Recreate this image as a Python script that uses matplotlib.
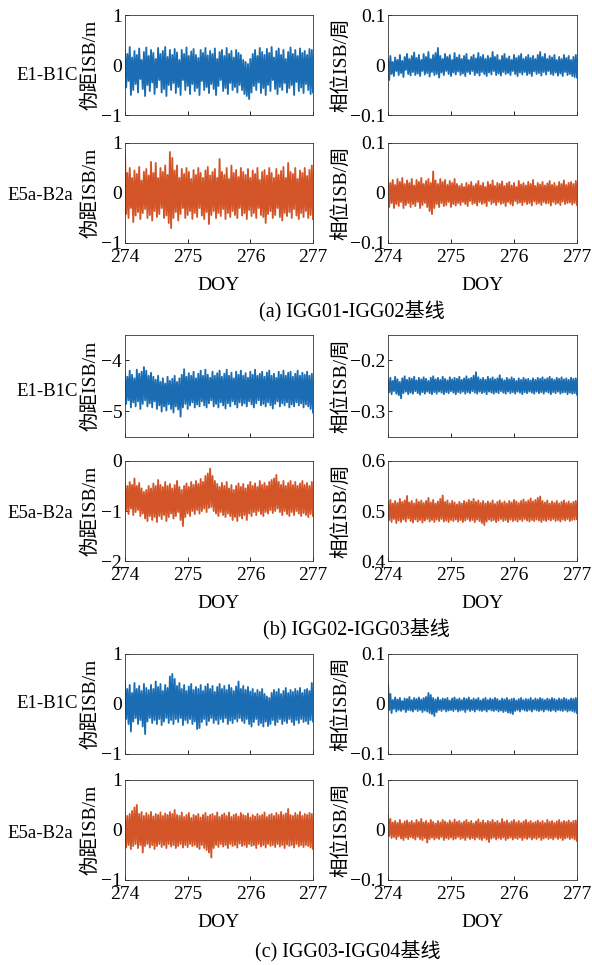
import numpy as np
import matplotlib
matplotlib.use("Agg")
import matplotlib.pyplot as plt
from matplotlib.ticker import FuncFormatter

# ── data: upper / lower swings of each ISB series ───────────────────────────
DOY_START, DOY_END = 274, 277
DOY_TICKS = [274, 275, 276, 277]

# (a) IGG01-IGG02
a_e1_code_hi = [0.3, 0.22, 0.36, 0.15, 0.28, 0.2, 0.33, 0.1, 0.26, 0.35,
                0.18, 0.3, 0.24, 0.12, 0.34, 0.22, 0.28, 0.36, 0.16, 0.3,
                0.2, 0.32, 0.25, 0.1, 0.3, 0.22, 0.35, 0.18, 0.27, 0.32,
                0.2, 0.14, 0.3, 0.24, 0.34, 0.19, 0.28, 0.22, 0.33, 0.12,
                0.26, 0.3, 0.18, 0.34, 0.22, 0.28, 0.15, 0.3, 0.24, 0.2,
                0.1, 0.06, 0.02, 0.12, 0.22, 0.3, 0.18, 0.34, 0.26, 0.2,
                0.32, 0.24, 0.36, 0.15, 0.28, 0.33, 0.2, 0.3, 0.12, 0.26,
                0.35, 0.22, 0.3, 0.18, 0.33, 0.24, 0.28, 0.2, 0.32, 0.3]
a_e1_code_lo = [-0.45, -0.32, -0.6, -0.5, -0.38, -0.55, -0.28, -0.48, -0.62, -0.4,
                -0.52, -0.35, -0.58, -0.45, -0.3, -0.55, -0.48, -0.62, -0.4, -0.5,
                -0.36, -0.56, -0.44, -0.6, -0.3, -0.5, -0.42, -0.58, -0.38, -0.52,
                -0.46, -0.6, -0.32, -0.5, -0.44, -0.56, -0.38, -0.48, -0.6, -0.42,
                -0.3, -0.52, -0.46, -0.58, -0.36, -0.5, -0.44, -0.55, -0.4, -0.5,
                -0.58, -0.62, -0.68, -0.55, -0.42, -0.5, -0.35, -0.56, -0.46, -0.6,
                -0.4, -0.52, -0.3, -0.48, -0.58, -0.44, -0.5, -0.36, -0.55, -0.46,
                -0.4, -0.6, -0.34, -0.52, -0.45, -0.56, -0.38, -0.5, -0.58, -0.55]
a_e5_code_hi = [0.85, 0.4, 0.5, 0.3, 0.45, 0.38, 0.52, 0.25, 0.42, 0.48,
                0.35, 0.62, 0.4, 0.6, 0.3, 0.5, 0.42, 0.55, 0.36, 0.82,
                0.7, 0.45, 0.55, 0.3, 0.48, 0.38, 0.5, 0.42, 0.28, 0.46,
                0.36, 0.5, 0.4, 0.3, 0.45, 0.52, 0.35, 0.42, 0.48, 0.3,
                0.68, 0.42, 0.36, 0.5, 0.28, 0.55, 0.4, 0.46, 0.32, 0.5,
                0.42, 0.36, 0.48, 0.3, 0.45, 0.38, 0.5, 0.26, 0.42, 0.46,
                0.35, 0.5, 0.4, 0.3, 0.48, 0.36, 0.44, 0.52, 0.3, 0.6,
                0.42, 0.38, 0.5, 0.28, 0.45, 0.4, 0.5, 0.34, 0.46, 0.55]
a_e5_code_lo = [-0.42, -0.5, -0.3, -0.58, -0.45, -0.38, -0.52, -0.4, -0.32, -0.5,
                -0.44, -0.55, -0.36, -0.48, -0.42, -0.3, -0.5, -0.45, -0.6, -0.7,
                -0.5, -0.38, -0.55, -0.42, -0.3, -0.5, -0.44, -0.36, -0.52, -0.4,
                -0.48, -0.3, -0.45, -0.52, -0.38, -0.62, -0.44, -0.36, -0.5, -0.4,
                -0.46, -0.32, -0.52, -0.4, -0.48, -0.36, -0.44, -0.5, -0.3, -0.45,
                -0.4, -0.52, -0.34, -0.46, -0.4, -0.5, -0.3, -0.44, -0.48, -0.6,
                -0.42, -0.36, -0.5, -0.44, -0.3, -0.48, -0.55, -0.4, -0.46, -0.38,
                -0.5, -0.32, -0.45, -0.52, -0.4, -0.48, -0.36, -0.5, -0.44, -0.52]
a_e1_phase_hi = [0.012, 0.018, 0.006, 0.015, 0.01, 0.02, 0.008, 0.016, 0.022, 0.012,
                 0.018, 0.025, 0.014, 0.02, 0.01, 0.022, 0.016, 0.026, 0.012, 0.02,
                 0.024, 0.034, 0.018, 0.012, 0.022, 0.016, 0.02, 0.01, 0.024, 0.015,
                 0.02, 0.012, 0.018, 0.022, 0.01, 0.016, 0.02, 0.013, 0.024, 0.016,
                 0.02, 0.012, 0.018, 0.014, 0.026, 0.016, 0.02, 0.01, 0.018, 0.022,
                 0.013, 0.017, 0.01, 0.02, 0.014, 0.018, 0.022, 0.012, 0.016, 0.02,
                 0.014, 0.018, 0.012, 0.02, 0.026, 0.016, 0.022, 0.012, 0.018, 0.015,
                 0.02, 0.01, 0.016, 0.012, 0.02, 0.014, 0.018, 0.01, 0.016, 0.02]
a_e1_phase_lo = [-0.03, -0.018, -0.022, -0.012, -0.02, -0.016, -0.024, -0.01, -0.018, -0.021,
                 -0.014, -0.02, -0.017, -0.022, -0.012, -0.019, -0.016, -0.023, -0.014, -0.02,
                 -0.018, -0.025, -0.015, -0.02, -0.012, -0.018, -0.022, -0.015, -0.019, -0.013,
                 -0.02, -0.017, -0.022, -0.014, -0.018, -0.012, -0.02, -0.016, -0.021, -0.014,
                 -0.018, -0.022, -0.015, -0.019, -0.012, -0.02, -0.017, -0.021, -0.014, -0.018,
                 -0.016, -0.02, -0.012, -0.018, -0.022, -0.015, -0.019, -0.014, -0.02, -0.017,
                 -0.022, -0.013, -0.018, -0.016, -0.021, -0.014, -0.019, -0.012, -0.018, -0.02,
                 -0.015, -0.021, -0.017, -0.022, -0.014, -0.02, -0.018, -0.022, -0.024, -0.025]
a_e5_phase_hi = [0.03, 0.02, 0.026, 0.016, 0.028, 0.022, 0.03, 0.018, 0.025, 0.02,
                 0.028, 0.015, 0.026, 0.022, 0.03, 0.018, 0.024, 0.028, 0.02, 0.043,
                 0.025, 0.018, 0.028, 0.022, 0.026, 0.016, 0.024, 0.02, 0.028, 0.018,
                 0.014, 0.018, 0.012, 0.02, 0.016, 0.022, 0.014, 0.018, 0.024, 0.015,
                 0.02, 0.012, 0.022, 0.017, 0.025, 0.014, 0.02, 0.018, 0.023, 0.014,
                 0.019, 0.022, 0.015, 0.02, 0.012, 0.024, 0.017, 0.02, 0.015, 0.022,
                 0.018, 0.026, 0.014, 0.02, 0.017, 0.022, 0.015, 0.019, 0.024, 0.016,
                 0.02, 0.014, 0.022, 0.018, 0.025, 0.016, 0.02, 0.022, 0.018, 0.024]
a_e5_phase_lo = [-0.028, -0.02, -0.03, -0.022, -0.026, -0.018, -0.03, -0.024, -0.02, -0.028,
                 -0.022, -0.026, -0.018, -0.03, -0.024, -0.02, -0.028, -0.036, -0.042, -0.03,
                 -0.022, -0.028, -0.02, -0.026, -0.024, -0.018, -0.028, -0.022, -0.025, -0.02,
                 -0.024, -0.018, -0.022, -0.026, -0.016, -0.022, -0.02, -0.025, -0.018, -0.022,
                 -0.02, -0.026, -0.016, -0.022, -0.019, -0.024, -0.018, -0.022, -0.02, -0.026,
                 -0.018, -0.022, -0.025, -0.016, -0.021, -0.019, -0.024, -0.018, -0.022, -0.02,
                 -0.025, -0.017, -0.022, -0.02, -0.024, -0.018, -0.021, -0.02, -0.025, -0.018,
                 -0.022, -0.02, -0.024, -0.017, -0.022, -0.02, -0.019, -0.023, -0.02, -0.024]

# (b) IGG02-IGG03
b_e1_code_hi = [-4.25, -4.32, -4.2, -4.28, -4.35, -4.18, -4.26, -4.22, -4.13, -4.2,
                -4.3, -4.24, -4.32, -4.38, -4.3, -4.42, -4.35, -4.45, -4.32, -4.4,
                -4.36, -4.3, -4.42, -4.35, -4.28, -4.17, -4.32, -4.25, -4.3, -4.22,
                -4.35, -4.26, -4.2, -4.3, -4.18, -4.28, -4.34, -4.22, -4.3, -4.25,
                -4.2, -4.32, -4.26, -4.18, -4.3, -4.24, -4.35, -4.22, -4.28, -4.2,
                -4.3, -4.25, -4.34, -4.22, -4.28, -4.18, -4.3, -4.26, -4.22, -4.32,
                -4.24, -4.2, -4.3, -4.26, -4.34, -4.22, -4.28, -4.2, -4.3, -4.24,
                -4.22, -4.32, -4.26, -4.2, -4.3, -4.24, -4.28, -4.22, -4.3, -4.26]
b_e1_code_lo = [-4.85, -4.78, -4.92, -4.82, -4.9, -4.8, -4.95, -4.85, -4.78, -4.9,
                -4.84, -4.92, -4.8, -4.95, -4.88, -5.0, -4.9, -4.98, -4.86, -4.95,
                -5.02, -4.9, -4.96, -5.1, -4.92, -4.85, -4.95, -4.88, -4.82, -4.92,
                -4.86, -4.9, -4.8, -4.88, -4.92, -4.84, -4.78, -4.9, -4.85, -4.92,
                -4.82, -4.88, -4.94, -4.84, -4.9, -4.8, -4.86, -4.92, -4.82, -4.88,
                -4.84, -4.9, -4.8, -4.86, -4.92, -4.84, -4.78, -4.88, -4.85, -4.9,
                -4.82, -4.88, -4.94, -4.85, -4.8, -4.9, -4.84, -4.88, -4.82, -4.92,
                -4.86, -4.9, -4.82, -4.88, -4.84, -4.92, -4.86, -4.9, -4.95, -5.02]
b_e5_code_hi = [-0.45, -0.5, -0.42, -0.48, -0.35, -0.5, -0.44, -0.55, -0.62, -0.58,
                -0.5, -0.55, -0.45, -0.5, -0.38, -0.48, -0.52, -0.42, -0.5, -0.46,
                -0.55, -0.48, -0.4, -0.52, -0.58, -0.5, -0.45, -0.52, -0.42, -0.48,
                -0.4, -0.46, -0.36, -0.42, -0.3, -0.25, -0.15, -0.3, -0.4, -0.46,
                -0.52, -0.44, -0.5, -0.42, -0.55, -0.48, -0.58, -0.5, -0.45, -0.52,
                -0.46, -0.55, -0.48, -0.42, -0.5, -0.45, -0.52, -0.4, -0.48, -0.44,
                -0.5, -0.42, -0.38, -0.35, -0.28, -0.42, -0.48, -0.4, -0.5, -0.44,
                -0.4, -0.48, -0.42, -0.5, -0.45, -0.4, -0.48, -0.44, -0.5, -0.42]
b_e5_code_lo = [-1.0, -1.06, -0.95, -1.08, -1.02, -0.98, -1.1, -1.05, -1.15, -1.2,
                -1.1, -1.18, -1.12, -1.22, -1.1, -1.16, -1.08, -1.2, -1.12, -1.05,
                -1.15, -1.1, -1.02, -1.18, -1.3, -1.12, -1.05, -1.1, -1.0, -1.06,
                -0.98, -1.05, -1.0, -0.95, -1.02, -0.94, -0.92, -1.0, -1.05, -1.1,
                -1.02, -1.08, -1.12, -1.05, -1.1, -1.18, -1.12, -1.2, -1.1, -1.15,
                -1.08, -1.18, -1.05, -1.1, -1.02, -1.08, -1.0, -1.06, -1.1, -1.02,
                -1.05, -0.98, -1.04, -1.0, -0.95, -1.02, -1.08, -1.0, -1.06, -1.1,
                -1.02, -1.08, -1.0, -1.05, -1.1, -1.04, -1.08, -1.12, -1.06, -1.1]
b_e1_phase_hi = [-0.238, -0.234, -0.24, -0.232, -0.237, -0.242, -0.235, -0.231, -0.238, -0.234,
                 -0.236, -0.232, -0.239, -0.234, -0.237, -0.233, -0.236, -0.24, -0.234, -0.231,
                 -0.237, -0.234, -0.238, -0.232, -0.236, -0.239, -0.233, -0.237, -0.234, -0.236,
                 -0.232, -0.238, -0.235, -0.231, -0.236, -0.234, -0.23, -0.223, -0.233, -0.237,
                 -0.234, -0.238, -0.232, -0.236, -0.233, -0.237, -0.235, -0.229, -0.236, -0.239,
                 -0.234, -0.237, -0.233, -0.236, -0.24, -0.235, -0.238, -0.234, -0.237, -0.236,
                 -0.239, -0.235, -0.238, -0.234, -0.236, -0.233, -0.237, -0.235, -0.232, -0.236,
                 -0.238, -0.234, -0.236, -0.233, -0.237, -0.235, -0.238, -0.234, -0.236, -0.235]
b_e1_phase_lo = [-0.262, -0.266, -0.26, -0.265, -0.268, -0.274, -0.264, -0.261, -0.266, -0.263,
                 -0.265, -0.26, -0.264, -0.267, -0.262, -0.265, -0.261, -0.264, -0.266, -0.262,
                 -0.265, -0.261, -0.263, -0.266, -0.262, -0.264, -0.26, -0.263, -0.266, -0.262,
                 -0.264, -0.261, -0.265, -0.262, -0.264, -0.26, -0.263, -0.265, -0.261, -0.264,
                 -0.262, -0.266, -0.261, -0.263, -0.265, -0.262, -0.264, -0.26, -0.263, -0.265,
                 -0.261, -0.264, -0.262, -0.265, -0.261, -0.263, -0.266, -0.262, -0.264, -0.261,
                 -0.263, -0.265, -0.261, -0.264, -0.262, -0.265, -0.261, -0.263, -0.266, -0.262,
                 -0.264, -0.261, -0.265, -0.263, -0.262, -0.266, -0.263, -0.265, -0.264, -0.267]
b_e5_phase_hi = [0.518, 0.522, 0.515, 0.52, 0.516, 0.524, 0.518, 0.521, 0.53, 0.517,
                 0.52, 0.515, 0.523, 0.518, 0.521, 0.516, 0.52, 0.526, 0.517, 0.522,
                 0.515, 0.519, 0.524, 0.531, 0.518, 0.521, 0.515, 0.52, 0.517, 0.513,
                 0.518, 0.515, 0.52, 0.517, 0.522, 0.519, 0.524, 0.518, 0.521, 0.516,
                 0.52, 0.515, 0.519, 0.516, 0.521, 0.514, 0.518, 0.521, 0.516, 0.519,
                 0.515, 0.52, 0.517, 0.522, 0.519, 0.516, 0.52, 0.523, 0.518, 0.521,
                 0.525, 0.519, 0.522, 0.526, 0.529, 0.52, 0.517, 0.521, 0.515, 0.519,
                 0.516, 0.52, 0.515, 0.518, 0.521, 0.516, 0.519, 0.515, 0.518, 0.52]
b_e5_phase_lo = [0.482, 0.478, 0.484, 0.476, 0.481, 0.478, 0.483, 0.479, 0.485, 0.48,
                 0.477, 0.483, 0.479, 0.482, 0.477, 0.481, 0.484, 0.479, 0.482, 0.478,
                 0.483, 0.48, 0.484, 0.479, 0.481, 0.478, 0.482, 0.48, 0.483, 0.479,
                 0.482, 0.478, 0.481, 0.484, 0.48, 0.482, 0.478, 0.483, 0.48, 0.476,
                 0.472, 0.479, 0.483, 0.48, 0.482, 0.478, 0.481, 0.484, 0.48, 0.482,
                 0.478, 0.483, 0.48, 0.482, 0.479, 0.483, 0.48, 0.484, 0.481, 0.479,
                 0.482, 0.48, 0.483, 0.481, 0.478, 0.482, 0.48, 0.483, 0.481, 0.484,
                 0.48, 0.482, 0.479, 0.483, 0.481, 0.484, 0.48, 0.482, 0.483, 0.484]

# (c) IGG03-IGG04
c_e1_code_hi = [0.45, 0.3, 0.38, 0.22, 0.42, 0.3, 0.36, 0.26, 0.4, 0.32,
                0.28, 0.38, 0.3, 0.45, 0.34, 0.4, 0.26, 0.38, 0.32, 0.55,
                0.6, 0.5, 0.36, 0.42, 0.3, 0.38, 0.26, 0.35, 0.4, 0.28,
                0.34, 0.3, 0.38, 0.26, 0.35, 0.4, 0.3, 0.36, 0.24, 0.34,
                0.4, 0.3, 0.36, 0.28, 0.38, 0.32, 0.26, 0.35, 0.45, 0.3,
                0.36, 0.28, 0.34, 0.25, 0.3, 0.22, 0.28, 0.24, 0.3, 0.2,
                0.15, 0.12, 0.22, 0.28, 0.24, 0.3, 0.2, 0.26, 0.32, 0.22,
                0.28, 0.24, 0.3, 0.26, 0.32, 0.22, 0.28, 0.3, 0.26, 0.42]
c_e1_code_lo = [-0.3, -0.4, -0.55, -0.35, -0.28, -0.4, -0.32, -0.45, -0.6, -0.35,
                -0.28, -0.38, -0.32, -0.4, -0.3, -0.42, -0.35, -0.28, -0.38, -0.32,
                -0.4, -0.3, -0.36, -0.28, -0.42, -0.32, -0.38, -0.3, -0.4, -0.35,
                -0.5, -0.48, -0.36, -0.3, -0.42, -0.34, -0.28, -0.38, -0.32, -0.4,
                -0.3, -0.36, -0.28, -0.4, -0.33, -0.38, -0.3, -0.35, -0.28, -0.34,
                -0.38, -0.3, -0.4, -0.45, -0.36, -0.3, -0.42, -0.38, -0.45, -0.35,
                -0.44, -0.4, -0.32, -0.42, -0.36, -0.3, -0.4, -0.34, -0.38, -0.3,
                -0.36, -0.42, -0.32, -0.38, -0.3, -0.36, -0.34, -0.4, -0.32, -0.35]
c_e5_code_hi = [0.35, 0.28, 0.32, 0.38, 0.45, 0.5, 0.32, 0.36, 0.28, 0.34,
                0.3, 0.36, 0.27, 0.32, 0.3, 0.35, 0.28, 0.33, 0.3, 0.36,
                0.32, 0.4, 0.3, 0.28, 0.35, 0.26, 0.3, 0.34, 0.24, 0.3,
                0.28, 0.32, 0.25, 0.3, 0.34, 0.27, 0.3, 0.32, 0.28, 0.35,
                0.26, 0.3, 0.33, 0.28, 0.35, 0.26, 0.3, 0.32, 0.27, 0.34,
                0.3, 0.28, 0.33, 0.25, 0.3, 0.27, 0.32, 0.28, 0.3, 0.35,
                0.26, 0.3, 0.32, 0.28, 0.34, 0.3, 0.36, 0.3, 0.33, 0.42,
                0.3, 0.28, 0.34, 0.3, 0.36, 0.28, 0.32, 0.3, 0.34, 0.32]
c_e5_code_lo = [-0.35, -0.3, -0.38, -0.32, -0.28, -0.36, -0.3, -0.45, -0.32, -0.28,
                -0.35, -0.3, -0.38, -0.32, -0.28, -0.34, -0.3, -0.36, -0.28, -0.33,
                -0.3, -0.36, -0.32, -0.28, -0.35, -0.3, -0.34, -0.28, -0.32, -0.3,
                -0.34, -0.38, -0.3, -0.36, -0.4, -0.45, -0.55, -0.36, -0.3, -0.34,
                -0.28, -0.33, -0.3, -0.36, -0.28, -0.32, -0.3, -0.35, -0.27, -0.32,
                -0.3, -0.34, -0.28, -0.32, -0.3, -0.36, -0.28, -0.33, -0.3, -0.35,
                -0.28, -0.32, -0.3, -0.34, -0.28, -0.33, -0.3, -0.36, -0.29, -0.32,
                -0.3, -0.35, -0.28, -0.33, -0.3, -0.34, -0.3, -0.32, -0.35, -0.38]
c_e1_phase_hi = [0.042, 0.02, 0.008, 0.013, 0.009, 0.012, 0.006, 0.011, 0.01, 0.014,
                 0.008, 0.012, 0.01, 0.013, 0.009, 0.012, 0.014, 0.022, 0.018, 0.012,
                 0.009, 0.013, 0.008, 0.011, 0.01, 0.012, 0.007, 0.011, 0.013, 0.009,
                 0.011, 0.008, 0.012, 0.01, 0.013, 0.008, 0.011, 0.009, 0.012, 0.007,
                 0.01, 0.012, 0.008, 0.011, 0.009, 0.012, 0.01, 0.007, 0.011, 0.009,
                 0.012, 0.008, 0.01, 0.011, 0.007, 0.01, 0.012, 0.008, 0.01, 0.009,
                 0.012, 0.008, 0.011, 0.009, 0.012, 0.01, 0.008, 0.011, 0.009, 0.012,
                 0.01, 0.008, 0.011, 0.009, 0.012, 0.01, 0.008, 0.011, 0.01, 0.012]
c_e1_phase_lo = [-0.012, -0.018, -0.01, -0.015, -0.012, -0.014, -0.011, -0.016, -0.012, -0.013,
                 -0.015, -0.011, -0.014, -0.012, -0.016, -0.013, -0.015, -0.018, -0.02, -0.024,
                 -0.016, -0.012, -0.014, -0.011, -0.015, -0.013, -0.012, -0.014, -0.011, -0.015,
                 -0.013, -0.012, -0.016, -0.011, -0.014, -0.012, -0.015, -0.011, -0.013, -0.014,
                 -0.012, -0.015, -0.011, -0.013, -0.014, -0.012, -0.015, -0.013, -0.016, -0.014,
                 -0.017, -0.018, -0.02, -0.014, -0.012, -0.015, -0.011, -0.013, -0.014, -0.012,
                 -0.015, -0.011, -0.013, -0.014, -0.012, -0.015, -0.011, -0.013, -0.014, -0.012,
                 -0.015, -0.012, -0.013, -0.014, -0.012, -0.015, -0.013, -0.014, -0.016, -0.018]
c_e5_phase_hi = [0.03, 0.022, 0.015, 0.018, 0.014, 0.02, 0.013, 0.017, 0.019, 0.015,
                 0.018, 0.014, 0.02, 0.016, 0.022, 0.015, 0.018, 0.014, 0.02, 0.016,
                 0.013, 0.018, 0.015, 0.02, 0.017, 0.014, 0.019, 0.015, 0.021, 0.016,
                 0.018, 0.014, 0.017, 0.02, 0.015, 0.018, 0.013, 0.017, 0.021, 0.015,
                 0.019, 0.014, 0.018, 0.016, 0.02, 0.015, 0.018, 0.014, 0.022, 0.016,
                 0.019, 0.014, 0.017, 0.02, 0.015, 0.018, 0.014, 0.017, 0.02, 0.015,
                 0.018, 0.014, 0.016, 0.019, 0.015, 0.018, 0.014, 0.02, 0.016, 0.018,
                 0.014, 0.017, 0.02, 0.015, 0.018, 0.016, 0.019, 0.015, 0.018, 0.019]
c_e5_phase_lo = [-0.012, -0.016, -0.014, -0.018, -0.013, -0.017, -0.02, -0.015, -0.018, -0.014,
                 -0.016, -0.019, -0.014, -0.018, -0.02, -0.016, -0.025, -0.018, -0.015, -0.019,
                 -0.016, -0.018, -0.014, -0.02, -0.016, -0.018, -0.015, -0.019, -0.017, -0.014,
                 -0.018, -0.016, -0.02, -0.015, -0.018, -0.016, -0.019, -0.015, -0.018, -0.02,
                 -0.016, -0.019, -0.024, -0.017, -0.015, -0.019, -0.016, -0.018, -0.015, -0.02,
                 -0.017, -0.015, -0.019, -0.016, -0.018, -0.015, -0.02, -0.016, -0.018, -0.015,
                 -0.019, -0.016, -0.018, -0.015, -0.02, -0.017, -0.015, -0.018, -0.016, -0.019,
                 -0.015, -0.018, -0.016, -0.02, -0.017, -0.015, -0.018, -0.016, -0.019, -0.022]

ROW_LABELS = ["E1-B1C", "E5a-B2a"]
CODE_LABEL = "伪距ISB/m"
PHASE_LABEL = "相位ISB/周"
CAPTIONS = ["(a) IGG01-IGG02基线", "(b) IGG02-IGG03基线", "(c) IGG03-IGG04基线"]

# ── style ───────────────────────────────────────────────────────────────────
plt.rcParams.update({
    "font.family": ["Liberation Serif", "Noto Sans CJK SC"],
    "font.size": 14,
    "axes.linewidth": 0.6,
    "axes.edgecolor": "#333333",
    "xtick.direction": "in",
    "ytick.direction": "in",
    "xtick.major.size": 3,
    "ytick.major.size": 3,
    "xtick.major.width": 0.6,
    "ytick.major.width": 0.6,
    "xtick.major.pad": 4.5,
    "ytick.major.pad": 2,
})
BLUE = "#1a6db3"
ORANGE = "#d35427"
W, H = 592, 965


def box(x0, y0, x1, y1):
    return [x0 / W, 1 - y1 / H, (x1 - x0) / W, (y1 - y0) / H]


def zigzag(hi, lo):
    y = np.empty(2 * len(hi))
    y[0::2] = hi
    y[1::2] = lo
    return np.linspace(DOY_START, DOY_END, len(y)), y


fmt = FuncFormatter(lambda v, p: f"{round(v, 6) + 0:g}".replace("-", "\u2212"))

groups = [
    dict(rows=[(15, 115), (143, 243)], caption_xy=(352, 312), labels_y=[75, 195],
         panels=[[(a_e1_code_hi, a_e1_code_lo, (-1, 1), [-1, 0, 1]),
                  (a_e1_phase_hi, a_e1_phase_lo, (-0.1, 0.1), [-0.1, 0, 0.1])],
                 [(a_e5_code_hi, a_e5_code_lo, (-1, 1), [-1, 0, 1]),
                  (a_e5_phase_hi, a_e5_phase_lo, (-0.1, 0.1), [-0.1, 0, 0.1])]]),
    dict(rows=[(335, 437), (461, 561)], caption_xy=(356, 630), labels_y=[392, 513],
         panels=[[(b_e1_code_hi, b_e1_code_lo, (-5.5, -3.5), [-5, -4]),
                  (b_e1_phase_hi, b_e1_phase_lo, (-0.35, -0.15), [-0.3, -0.2])],
                 [(b_e5_code_hi, b_e5_code_lo, (-2, 0), [-2, -1, 0]),
                  (b_e5_phase_hi, b_e5_phase_lo, (0.4, 0.6), [0.4, 0.5, 0.6])]]),
    dict(rows=[(654, 754), (780, 880)], caption_xy=(348, 952), labels_y=[703, 833],
         panels=[[(c_e1_code_hi, c_e1_code_lo, (-1, 1), [-1, 0, 1]),
                  (c_e1_phase_hi, c_e1_phase_lo, (-0.1, 0.1), [-0.1, 0, 0.1])],
                 [(c_e5_code_hi, c_e5_code_lo, (-1, 1), [-1, 0, 1]),
                  (c_e5_phase_hi, c_e5_phase_lo, (-0.1, 0.1), [-0.1, 0, 0.1])]]),
]
# column spans (px), y-label text, y-label anchor (axes fraction)
COLS = [(125, 313, CODE_LABEL, -0.133), (388, 577, PHASE_LABEL, -0.201)]
ROW_LABEL_X = [47, 40]

fig = plt.figure(figsize=(W / 100, H / 100), dpi=100)

for gi, g in enumerate(groups):
    for r, (y0, y1) in enumerate(g["rows"]):
        for c, (x0, x1, ylab, lab_x) in enumerate(COLS):
            hi, lo, ylim, yticks = g["panels"][r][c]
            ax = fig.add_axes(box(x0, y0, x1, y1))
            x, y = zigzag(hi, lo)
            ax.plot(x, y, color=BLUE if r == 0 else ORANGE, lw=1.35)
            ax.set_xlim(DOY_START, DOY_END)
            ax.set_ylim(*ylim)
            ax.set_xticks(DOY_TICKS)
            ax.set_yticks(yticks)
            ax.yaxis.set_major_formatter(fmt)
            ax.set_ylabel(ylab)
            ax.yaxis.set_label_coords(lab_x, 0.5)
            if r == 0:
                ax.tick_params(axis="x", labelbottom=False)
            else:
                ax.set_xlabel("DOY")
                ax.xaxis.set_label_coords(0.5, -0.34)
        fig.text(ROW_LABEL_X[r] / W, 1 - g["labels_y"][r] / H, ROW_LABELS[r],
                 ha="center", va="center", fontsize=13.5)
    cx, cy = g["caption_xy"]
    fig.text(cx / W, 1 - cy / H, CAPTIONS[gi], ha="center", va="center", fontsize=14.5)

fig.savefig("out.png", dpi=100)
